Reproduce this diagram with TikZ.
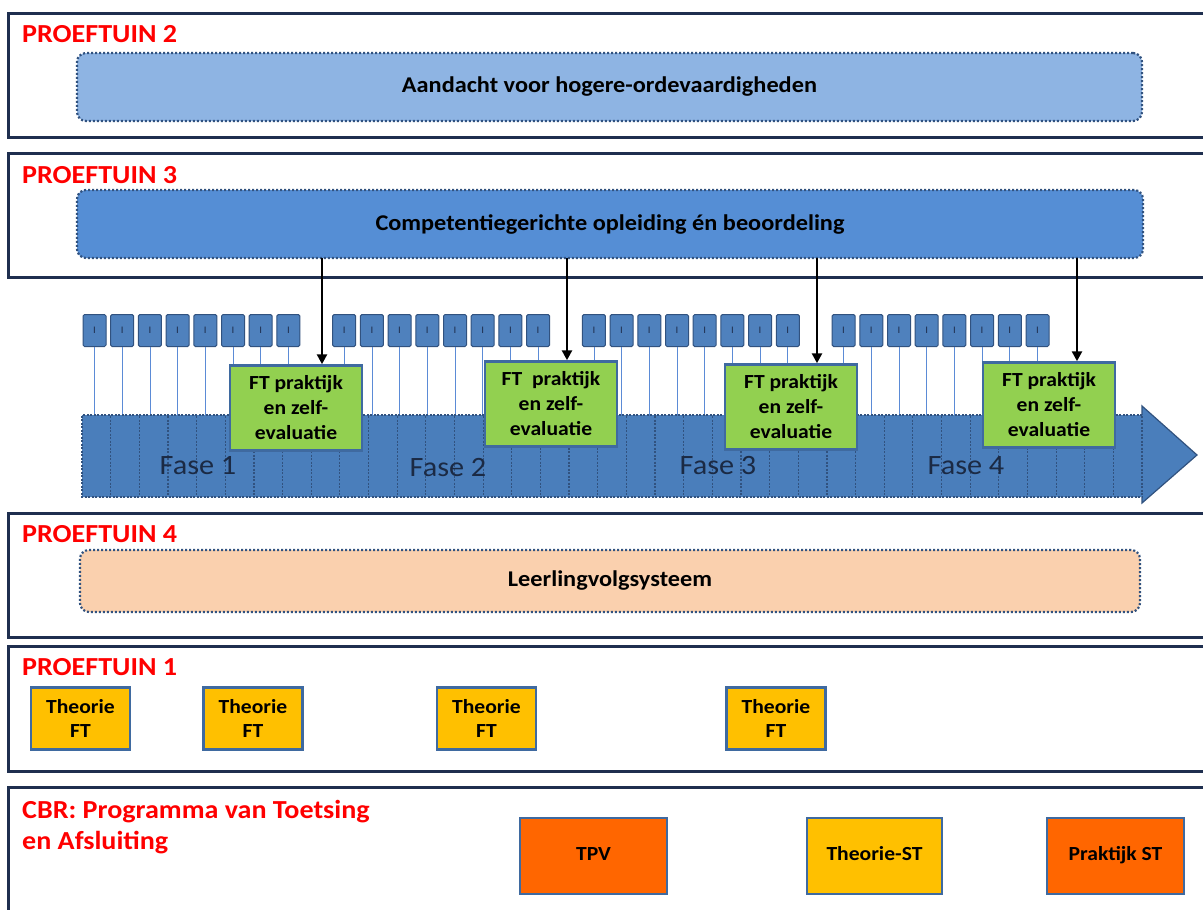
\documentclass[tikz,border=0pt]{standalone}
\usepackage{fontspec}
\setmainfont{Carlito}[FakeStretch=1.08]
\usetikzlibrary{arrows.meta}
\definecolor{navy}{HTML}{1F2F4F}
\definecolor{dotblue}{HTML}{31527F}
\definecolor{ptwofill}{HTML}{8EB4E3}
\definecolor{pthreefill}{HTML}{558ED5}
\definecolor{pfourfill}{HTML}{FAD0AE}
\definecolor{bandfill}{HTML}{4A7EBB}
\definecolor{sfill}{HTML}{4F81BD}
\definecolor{ftgreen}{HTML}{92D050}
\definecolor{boxedge}{HTML}{3F6AA0}
\definecolor{yel}{HTML}{FFC000}
\definecolor{orng}{HTML}{FF6600}
\definecolor{lbred}{HTML}{FF0000}
\definecolor{vlineblue}{HTML}{5B8BD6}
\definecolor{fasetext}{HTML}{1B2A44}
\tikzset{
  panel/.style={draw=navy, line width=3pt},
  lbl/.style={text=lbred, font=\fontsize{26}{32}\selectfont\bfseries, anchor=base west, inner sep=0pt},
  innerbox/.style={draw=dotblue, line width=2.2pt, dash pattern=on 2pt off 2pt, rounded corners=9pt, font=\fontsize{22.5}{26}\selectfont\bfseries, text=black},
  sbox/.style={draw=dotblue, line width=1pt, fill=sfill, rounded corners=1.5pt, minimum width=23pt, minimum height=32pt, inner sep=0pt, font=\fontsize{10}{10}\selectfont, text=navy},
  vline/.style={draw=vlineblue, line width=0.8pt},
  bandline/.style={draw=dotblue, line width=1.2pt, dash pattern=on 2pt off 1.5pt},
  ftbox/.style={draw=boxedge, line width=2.5pt, fill=ftgreen, minimum width=132pt, minimum height=85pt, align=center, font=\fontsize{20}{25}\selectfont\bfseries, text=black, inner sep=2pt},
  thbox/.style={draw=boxedge, line width=2.5pt, fill=yel, minimum width=99pt, minimum height=62pt, align=center, font=\fontsize{20}{24}\selectfont\bfseries, text=black, inner sep=2pt},
  cbrbox/.style={draw=boxedge, line width=2.5pt, minimum height=76pt, text height=13pt, text depth=4pt, font=\fontsize{20}{24}\selectfont\bfseries, text=black, inner sep=2pt},
  fase/.style={font=\fontsize{28}{34}\selectfont, text=fasetext},
  arr/.style={draw=black, line width=2.5pt, -{Triangle[length=10pt, width=10pt]}}
}
\begin{document}
\begin{tikzpicture}[x=1pt,y=-1pt]
\useasboundingbox (0,0) rectangle (1203,910);
\clip (0,0) rectangle (1203,910);
\fill[white] (0,0) rectangle (1203,910);

% panels
\draw[panel] (8,13) rectangle (1220,137);
\draw[panel] (8,153) rectangle (1220,277);
\draw[panel] (8,513) rectangle (1220,637);
\draw[panel] (8,646) rectangle (1220,771);
\draw[panel] (8,787) rectangle (1220,930);

% labels
\node[lbl] (l2) at (22,42) {PROEFTUIN 2};
\node[lbl] (l3) at (22,183) {PROEFTUIN 3};
\node[lbl] (l4) at (22,542) {PROEFTUIN 4};
\node[lbl] (l1) at (22,675) {PROEFTUIN 1};
\node[text=lbred, font=\fontsize{26}{31}\selectfont\bfseries, anchor=north west, align=left, inner sep=0pt] (lc) at (22,800) {CBR: Programma van Toetsing\\en Afsluiting};

% inner boxes
\node[innerbox, fill=ptwofill, minimum width=1065pt, minimum height=68pt] (p2in) at (609.5,87) {Aandacht voor hogere-ordevaardigheden};
\node[innerbox, fill=pthreefill, minimum width=1066pt, minimum height=68pt] (p3in) at (610,224) {Competentiegerichte opleiding én beoordeling};
\node[innerbox, fill=pfourfill, minimum width=1060pt, minimum height=62pt] (p4in) at (610,581) {Leerlingvolgsysteem};

% band top reference
\coordinate (bandtop) at (82,415);

% small boxes and their lines
\foreach \g in {0,...,3}{
  \foreach \i in {0,...,7}{
    \pgfmathsetmacro\cx{94.5+249.7*\g+27.7*\i}
    \node[sbox] (s\g\i) at (\cx,330.5) {I};
    \draw[vline] (s\g\i.south) -- (s\g\i.south |- bandtop);
  }
}

% band arrow
\path[fill=bandfill] (82,415) -- (1142,415) -- (1142,406) -- (1197,455) -- (1142,503) -- (1142,497) -- (82,497) -- cycle;
\foreach \k in {1,...,37}{
  \draw[bandline] (82+28.65*\k,416) -- ++(0,80);
}
\draw[bandline] (1142,415) -- (82,415) -- (82,497) -- (1142,497);
\draw[draw=dotblue, line width=1.2pt] (1142,415) -- (1142,406) -- (1197,455) -- (1142,503) -- (1142,497);

% fase labels
\node[fase] (f1) at (198,466) {Fase 1};
\node[fase] (f2) at (448,468) {Fase 2};
\node[fase] (f3) at (718,466) {Fase 3};
\node[fase] (f4) at (966,466) {Fase 4};

% FT boxes
\node[ftbox] (ft1) at (296,408) {FT praktijk\\en zelf-\\evaluatie};
\node[ftbox] (ft2) at (551,404) {FT\ \ praktijk\\en zelf-\\evaluatie};
\node[ftbox] (ft3) at (791,407) {FT praktijk\\en zelf-\\evaluatie};
\node[ftbox] (ft4) at (1049,405) {FT praktijk\\en zelf-\\evaluatie};

% arrows
\coordinate (a1) at (322,258);
\coordinate (a2) at (567,258);
\coordinate (a3) at (817,258);
\coordinate (a4) at (1077,258);
\draw[arr] (a1) -- (a1 |- ft1.north);
\draw[arr] (a2) -- (a2 |- ft2.north);
\draw[arr] (a3) -- (a3 |- ft3.north);
\draw[arr] (a4) -- (a4 |- ft4.north);

% Theorie FT boxes
\node[thbox] (t1) at (80.5,718.5) {Theorie\\FT};
\node[thbox] (t2) at (253,718.5) {Theorie\\FT};
\node[thbox] (t3) at (486.5,718.5) {Theorie\\FT};
\node[thbox] (t4) at (776,718.5) {Theorie\\FT};

% CBR boxes
\node[cbrbox, fill=orng, minimum width=147pt] (tpv) at (593.5,856) {TPV};
\node[cbrbox, fill=yel, minimum width=135pt] (tst) at (874.5,856) {Theorie-ST};
\node[cbrbox, fill=orng, minimum width=137pt] (pst) at (1115.5,856) {Praktijk ST};
\end{tikzpicture}
\end{document}
